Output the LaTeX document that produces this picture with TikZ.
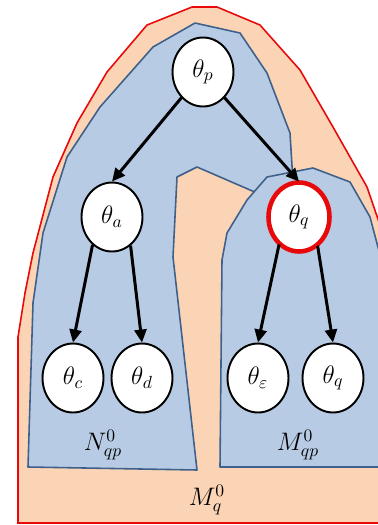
\documentclass[tikz,border=0pt]{standalone}
\usepackage{amsmath,amssymb}
\usepackage{tikz}
\usetikzlibrary{shapes.geometric}
\usetikzlibrary{arrows.meta,positioning,calc}
\definecolor{peachA}{RGB}{250,212,180}
\definecolor{blueA}{RGB}{184,203,228}
\definecolor{blueB}{RGB}{62,96,138}
\definecolor{redA}{RGB}{232,10,10}
\newcommand{\thnode}[3]{\node[param] (#1) at #2 {$\theta_{#3}$};}

\begin{document}
\begin{tikzpicture}[x=0.02cm,y=-0.02cm,
		param/.style={ellipse,draw=black,line width=1.1pt,fill=white,minimum width=1.22cm,minimum height=1.38cm,inner sep=0pt,font=\Large},
		sel/.style={draw=redA,line width=2.6pt},
		region/.style={fill=blueA,draw=blueB,line width=0.9pt,line join=round},
		edge/.style={-{Triangle[length=0.26cm,width=0.24cm]},line width=1.7pt},
		lbl/.style={font=\Large}]
		\useasboundingbox (0,0) rectangle (378,525);
		\clip (0,0) rectangle (378,525);
		% outer set
		\draw[fill=peachA,draw=redA,line width=0.9pt] (18,523) -- (18,337) -- (25,293) -- (33,253) -- (53,177) -- (77,123) -- (107,72) -- (147,25) -- (192,7) -- (217,7) -- (260,25) -- (300,70) -- (333,127) -- (367,187) -- (392,260) -- (392,523) -- cycle;
		% left region with top
		\draw[region] (195,23) -- (240,33) -- (267,73) -- (290,133) -- (293,182) -- (270,212) -- (257,193) -- (197,167) -- (177,177) -- (173,257) -- (197,470) -- (28,467) -- (33,303) -- (43,233) -- (67,157) -- (100,107) -- (153,47) -- cycle;
		% right region
		\draw[region] (220,467) -- (222,260) -- (227,233) -- (247,200) -- (267,177) -- (313,168) -- (350,182) -- (370,217) -- (392,300) -- (392,467) -- cycle;
		\thnode{p}{(203,72)}{p}
		\thnode{a}{(112,217)}{a}
		\thnode{q}{(299,217)}{q}
		\thnode{c}{(73,378)}{c}
		\thnode{d}{(142,378)}{d}
		\thnode{e}{(258,378)}{\varepsilon}
		\thnode{r}{(333,378)}{q}
		\draw[sel] (q) ellipse [x radius=0.61cm,y radius=0.69cm];
		\draw[edge] (p.-130) -- (a.north);
		\draw[edge] (p.-50) -- (q.north);
		\draw[edge] (a.-125) -- (c.north);
		\draw[edge] (a.-57) -- (d.north);
		\draw[edge] (q.-126) -- (e.north);
		\draw[edge] (q.-57) -- (r.north);
		\node[lbl] (nqp) at (103,445) {$N_{qp}^{0}$};
		\node[lbl] (mqp) at (298,445) {$M_{qp}^{0}$};
		\node[lbl] (mq) at (207,500) {$M_{q}^{0}$};
\end{tikzpicture}
\end{document}
